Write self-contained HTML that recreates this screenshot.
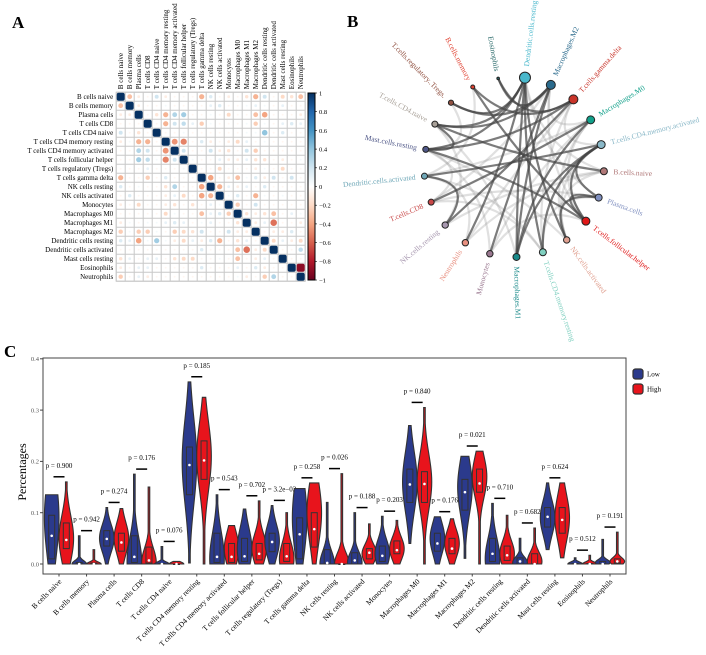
<!DOCTYPE html>
<html><head><meta charset="utf-8"><style>
body{margin:0;background:#fff}
svg{display:block;font-family:"Liberation Serif",serif}
</style></head><body>
<svg id="fig" width="706" height="655" viewBox="0 0 706 655" xmlns="http://www.w3.org/2000/svg">
<text x="12" y="28" font-size="17" font-weight="bold">A</text>
<text x="347" y="27" font-size="17" font-weight="bold">B</text>
<text x="4" y="357" font-size="17" font-weight="bold">C</text>
<g id="pa"></g>
<g id="pb"></g>
<g id="pc"></g>
</svg>
<script>
const NS="http://www.w3.org/2000/svg";
function mk(p,t,a){const e=document.createElementNS(NS,t);for(const k in a)e.setAttribute(k,a[k]);p.appendChild(e);return e;}

// ---------- Panel A data ----------
const cells=["B cells naive","B cells memory","Plasma cells","T cells CD8","T cells CD4 naive","T cells CD4 memory resting","T cells CD4 memory activated","T cells follicular helper","T cells regulatory (Tregs)","T cells gamma delta","NK cells resting","NK cells activated","Monocytes","Macrophages M0","Macrophages M1","Macrophages M2","Dendritic cells resting","Dendritic cells activated","Mast cells resting","Eosinophils","Neutrophils"];
const corr=[
[1,-.3,-.1,-.05,.2,-.1,-.05,-.05,-.05,-.35,.15,-.05,-.1,-.05,-.15,-.35,.2,-.05,-.2,-.15,-.3],
[-.3,1,-.1,-.05,-.05,.05,-.05,-.05,-.05,-.05,.1,.15,-.05,-.05,.05,.1,.05,-.05,.1,-.05,-.05],
[-.1,-.1,1,-.05,-.15,-.35,.3,.35,-.05,-.05,.05,-.05,-.2,-.05,-.05,-.3,-.4,-.05,-.05,-.05,-.1],
[-.05,-.05,-.05,1,-.05,-.35,.2,.25,.1,-.25,.05,-.05,-.05,-.05,.05,-.25,.05,-.05,.1,.15,.1],
[.2,-.05,-.15,-.05,1,-.05,-.05,.05,-.05,-.05,-.05,-.05,-.05,-.05,.05,.05,.4,-.05,.15,-.05,-.05],
[-.1,.05,-.35,-.35,-.05,1,-.45,-.5,-.05,.15,-.1,-.05,-.1,-.2,.1,-.05,.05,-.05,-.05,-.05,-.05],
[-.05,-.05,.3,.2,-.05,-.45,1,.2,-.05,-.05,.2,-.1,-.15,-.05,.2,-.25,-.05,-.05,-.05,-.05,-.05],
[-.05,-.05,.35,.25,.05,-.5,.2,1,.05,-.05,-.05,.1,-.1,-.1,.1,-.15,-.15,-.05,-.1,-.05,.05],
[-.05,-.05,-.05,.1,-.05,-.05,-.05,.05,1,-.05,-.05,-.2,-.05,-.05,-.05,-.1,.05,-.05,-.2,-.05,-.05],
[-.35,-.05,-.05,-.25,-.05,.15,-.05,-.05,-.05,1,-.4,-.05,-.1,-.3,.05,.15,-.1,.2,-.05,.2,-.05],
[.15,-.05,.05,-.05,-.05,-.15,.3,-.05,-.05,-.4,1,-.35,.1,-.1,.1,-.05,.15,-.05,-.05,-.05,-.05],
[-.05,.15,-.05,-.05,-.05,-.1,.1,-.2,-.05,-.4,-.35,1,.05,.15,-.05,-.35,.05,-.05,.05,-.05,-.05],
[-.1,-.05,-.2,-.05,-.05,-.1,-.15,-.05,-.15,-.05,.1,.05,1,-.25,-.05,.2,-.05,-.05,-.05,-.05,-.05],
[-.05,-.05,-.05,-.05,-.05,-.2,.05,-.05,-.05,-.3,.1,.15,-.25,1,-.15,-.1,-.15,-.3,-.05,.1,.05],
[-.1,.05,-.05,.05,.05,.1,.15,.1,-.05,.05,.1,-.05,-.05,-.15,1,-.1,.1,-.55,-.05,-.05,-.1],
[-.25,.05,-.25,-.25,.05,-.05,-.25,-.2,-.15,.2,-.05,-.05,.2,-.1,-.1,1,-.05,-.1,-.1,.15,-.05],
[.15,.1,-.4,.05,.35,.05,-.1,-.2,.1,-.1,.15,-.35,-.05,-.15,.1,-.05,1,-.2,.1,-.1,-.2],
[-.05,-.05,-.05,-.05,-.05,-.05,-.05,-.05,-.05,.15,-.05,-.05,-.05,-.3,-.55,-.1,-.2,1,-.05,-.05,.25],
[-.15,.1,-.05,.1,.1,-.05,-.15,-.2,-.2,-.05,-.05,.05,-.05,-.3,-.05,-.1,.1,-.05,1,-.05,-.05],
[-.1,-.05,.1,.1,-.05,-.05,-.05,-.05,-.05,.15,-.05,-.05,-.05,.1,-.05,.15,-.1,-.05,-.05,1,-.9],
[-.25,-.05,.1,-.1,-.05,-.05,-.05,-.05,-.05,-.05,-.05,-.05,-.05,.05,-.1,-.05,-.25,.3,-.05,-.05,1]];
const cbTicks=[1,0.8,0.6,0.4,0.2,0,-0.2,-0.4,-0.6,-0.8,-1];

const RdBu=["#67001F","#B2182B","#D6604D","#F4A582","#FDDBC7","#FFFFFF","#D1E5F0","#92C5DE","#4393C3","#2166AC","#053061"];
function hex(h){return [1,3,5].map(i=>parseInt(h.substr(i,2),16));}
function col(v){let t=(v+1)/0.2;let i=Math.min(9,Math.max(0,Math.floor(t)));let f=t-i;const a=hex(RdBu[i]),b=hex(RdBu[i+1]);return "rgb("+a.map((x,k)=>Math.round(x+(b[k]-x)*f)).join(",")+")";}

(function(){
const g=document.getElementById('pa');
const cs=9,x0=116.2,y0=92.2,n=cells.length;
mk(g,'rect',{x:x0,y:y0,width:n*cs,height:n*cs,fill:'#fff',stroke:'#c4c4c4','stroke-width':1});
for(let i=0;i<=n;i++){
  mk(g,'line',{x1:x0+i*cs,y1:y0,x2:x0+i*cs,y2:y0+n*cs,stroke:'#c8c8c8','stroke-width':1});
  mk(g,'line',{x1:x0,y1:y0+i*cs,x2:x0+n*cs,y2:y0+i*cs,stroke:'#c8c8c8','stroke-width':1});
}
cells.forEach((c,i)=>{
  const t=mk(g,'text',{x:x0-3,y:y0+i*cs+cs/2+2.4,'font-size':7,'text-anchor':'end'});t.textContent=c;
  
  
  const cx=x0+i*cs+cs/2+2.4,cy=y0-3;
  const u=mk(g,'text',{x:cx,y:cy,'font-size':7,transform:`rotate(-90 ${cx} ${cy})`});u.textContent=c;
  
  
});
corr.forEach((row,i)=>row.forEach((v,j)=>{
  const cx=x0+j*cs+cs/2,cy=y0+i*cs+cs/2;let e;
  if(Math.abs(v)>0.85){e=mk(g,'rect',{x:cx-4,y:cy-4,width:8,height:8,rx:2,fill:col(v)});}
  else e=mk(g,'circle',{cx:cx,cy:cy,r:Math.sqrt(Math.abs(v))*4.4,fill:col(v)});
  
  
}));
// colorbar
const bx=308,by0=93,by1=280;
const defs=mk(g,'defs',{});const lg=mk(defs,'linearGradient',{id:'cbg',x1:0,y1:0,x2:0,y2:1});
RdBu.slice().reverse().forEach((c,k)=>mk(lg,'stop',{offset:k/10,'stop-color':c}));
const cb=mk(g,'rect',{x:bx,y:by0,width:7,height:by1-by0,fill:'url(#cbg)',stroke:'#000','stroke-width':1});


cbTicks.forEach(v=>{const y=by0+(1-v)/2*(by1-by0);
  mk(g,'line',{x1:bx+7,y1:y,x2:bx+9,y2:y,stroke:'#000','stroke-width':0.6});
  const t=mk(g,'text',{x:bx+11,y:y+2.4,'font-size':6.5});t.textContent=(v<0?"\u2212":"")+Math.abs(v);
  
  });
})();

// ---------- Panel B data ----------
const nodes=["Dendritic.cells.resting","Macrophages.M2","T.cells.gamma.delta","Macrophages.M0","T.cells.CD4.memory.activated","B.cells.naive","Plasma.cells","T.cells.follicular.helper","NK.cells.activated","T.cells.CD4.memory.resting","Macrophages.M1","Monocytes","Neutrophils","NK.cells.resting","T.cells.CD8","Dendritic.cells.activated","Mast.cells.resting","T.cells.CD4.naive","T.cells.regulatory..Tregs.","B.cells.memory","Eosinophils"];
const nodeColors=["#4ab8cc","#2a6a8c","#c8342a","#12a08a","#8ab8c8","#b07878","#8090c0","#e01818","#e0a090","#80d0c0","#1a8a8a","#9a7890","#e89080","#a898b0","#c84848","#70a8b8","#505888","#a8a098","#905040","#e04030","#2a6a6a"];
const nodeSizes=[5.5,4.5,4.5,4,4,3.5,3.5,4,3.2,3.5,3.5,3.2,3.2,3.2,3,3,3,3,2.6,2,1.3];
const darkEdges=[[0,16],[0,17],[0,10],[0,12],[0,9],[0,18],[1,17],[1,11],[1,10],[2,13],[2,19],[2,16],[3,14],[4,15],[4,7],[4,6],[4,9],[4,10],[5,17],[6,7],[6,8],[7,19],[7,16],[20,2],[20,1],[16,17],[15,13],[8,0],[3,10],[1,18]];
const lightEdges=[[0,5],[0,6],[1,7],[1,14],[2,12],[3,15],[3,11],[5,13],[5,12],[6,14],[7,11],[8,16],[9,15],[9,14],[10,17],[11,16],[12,15],[13,17],[14,16],[2,9],[3,7],[4,8],[5,8],[6,9],[18,16],[19,15],[3,8],[1,3],[2,4]];

(function(){
const g=document.getElementById('pb');
const CX=514,CY=167,R=90,n=nodes.length;
const ang=i=>(-83+i*360/n)*Math.PI/180;
const P=i=>[CX+R*Math.cos(ang(i)),CY+R*Math.sin(ang(i))];
function edge(e,stroke,w,op,name){
  const a=P(e[0]),b=P(e[1]);const mx=(a[0]+b[0])/2,my=(a[1]+b[1])/2;
  const k=0.55;const qx=mx+(CX-mx)*k,qy=my+(CY-my)*k;
  const p=mk(g,'path',{d:`M${a[0]},${a[1]} Q${qx},${qy} ${b[0]},${b[1]}`,fill:'none',stroke:stroke,'stroke-width':w,'stroke-opacity':op});
  
  
}
lightEdges.forEach(e=>edge(e,'#999',2.2,0.3,'weak-edge'));
darkEdges.forEach(e=>edge(e,'#444',2.2,0.7,'strong-edge'));
nodes.forEach((nm,i)=>{
  const [x,y]=P(i);
  const c=mk(g,'circle',{cx:x,cy:y,r:nodeSizes[i],fill:nodeColors[i],stroke:'#222','stroke-width':1});
  
  
  const a=ang(i);const lr=R+nodeSizes[i]+6;const lx=CX+lr*Math.cos(a),ly=CY+lr*Math.sin(a);
  let deg=a*180/Math.PI,anchor='start';
  if(Math.cos(a)<-0.001){deg+=180;anchor='end';}
  const t=mk(g,'text',{x:lx,y:ly+2.5,'font-size':7.5,fill:nodeColors[i],'text-anchor':anchor,transform:`rotate(${deg} ${lx} ${ly})`});
  t.textContent=nm;
  
  
});
})();

// ---------- Panel C data ----------
const cats=["B cells naive","B cells memory","Plasma cells","T cells CD8","T cells CD4 naive","T cells CD4 memory resting","T cells CD4 memory activated","T cells follicular helper","T cells regulatory (Tregs)","T cells gamma delta","NK cells resting","NK cells activated","Monocytes","Macrophages M0","Macrophages M1","Macrophages M2","Dendritic cells resting","Dendritic cells activated","Mast cells resting","Eosinophils","Neutrophils"];
// [min,q1,median,q3,max,mode]
const lowStats=[[0,.01,.055,.095,.135,.09],[0,0,0,.003,.055,0],[0,.035,.049,.065,.11,.05],[0,.003,.014,.055,.175,.005],[0,0,0,.001,.034,0],[.002,.135,.193,.228,.355,.2],[0,.003,.014,.06,.135,.01],[0,.005,.015,.05,.107,.03],[0,.024,.043,.06,.114,.045],[0,.01,.058,.09,.147,.09],[0,0,.002,.028,.12,0],[0,0,.007,.022,.1,.003],[0,.005,.016,.035,.093,.02],[.04,.12,.155,.185,.27,.16],[0,.025,.04,.06,.092,.05],[.011,.105,.14,.165,.21,.15],[0,.005,.02,.05,.118,.01],[0,0,.005,.012,.05,.003],[.028,.072,.092,.11,.158,.09],[0,0,0,.001,.012,0],[0,0,0,.005,.048,.003]];
const highStats=[[0,.03,.047,.08,.16,.05],[0,0,0,.002,.028,0],[0,.025,.042,.06,.108,.05],[0,.002,.007,.033,.15,.003],[0,0,0,0,.005,0],[0,.165,.202,.24,.325,.21],[0,.003,.014,.04,.075,.03],[0,.008,.02,.04,.123,.03],[0,.005,.015,.04,.1,.01],[0,.033,.068,.1,.158,.1],[0,0,0,0,.176,0],[0,.01,.022,.03,.078,.02],[0,.02,.027,.045,.085,.03],[0,.12,.156,.18,.305,.16],[0,.02,.03,.05,.088,.04],[0,.14,.157,.185,.22,.17],[0,.007,.017,.035,.095,.02],[0,0,0,.02,.07,.005],[.012,.06,.086,.11,.158,.09],[0,0,0,.001,.017,0],[0,.002,.005,.01,.062,.005]];
const pvals=["0.900","0.942","0.274","0.176","0.076","0.185","0.543","0.702","3.2e\u221203","0.258","0.026","0.188","0.203","0.840","0.176","0.021","0.710","0.682","0.624","0.512","0.191"];
const yTicks=[0,0.1,0.2,0.3,0.4];

(function(){
const g=document.getElementById('pc');
const L=43,Rr=626,T=358,B=574;
const y=v=>564-v*513;
const x=i=>59+i*27.55;
mk(g,'rect',{x:L,y:T,width:Rr-L,height:B-T,fill:'#fff',stroke:'#444','stroke-width':1});
yTicks.forEach(v=>{mk(g,'line',{x1:L-3,y1:y(v),x2:L,y2:y(v),stroke:'#444'});
  const t=mk(g,'text',{x:L-4,y:y(v)+2.3,'font-size':6.5,fill:'#555','text-anchor':'end'});t.textContent=v.toFixed(1);
  
  });
const yt=mk(g,'text',{x:26,y:472,'font-size':12,'text-anchor':'middle',transform:'rotate(-90 26 472)'});yt.textContent="Percentages";


function violin(cx,s,fill,name){
  const [mn,q1,md,q3,mx,mode]=s;const W=7.3;
  const sig=Math.max((q3-q1)*0.9,(mx-mn)*0.12,0.004);
  const N=40;let right=[],left=[];
  for(let k=0;k<=N;k++){const v=mn+(mx-mn)*k/N;let w=W*Math.exp(-0.5*Math.pow((v-mode)/sig,2));w=Math.max(w,0.8);
    right.push([cx+w,y(v)]);left.push([cx-w,y(v)]);}
  const pts=right.concat(left.reverse());
  const p=mk(g,'path',{d:'M'+pts.map(p=>p.join(',')).join(' L')+'Z',fill:fill,stroke:'#333','stroke-width':1.1});
  
  
  const b=mk(g,'rect',{x:cx-3,y:y(q3),width:6,height:Math.max(0.5,y(q1)-y(q3)),fill:'none',stroke:'#333','stroke-width':1});
  
  
  mk(g,'circle',{cx:cx,cy:y(md),r:1.3,fill:'#fff'});
}
cats.forEach((c,i)=>{
  const cx=x(i);
  violin(cx-7.3,lowStats[i],'#2b3a8c','violin-low');
  violin(cx+7.3,highStats[i],'#e8141c','violin-high');
  const top=Math.max(lowStats[i][4],highStats[i][4])+0.01;
  const bar=mk(g,'line',{x1:cx-5.5,y1:y(top),x2:cx+5.5,y2:y(top),stroke:'#000','stroke-width':1.5});
  
  
  const pt=mk(g,'text',{x:cx,y:y(top)-9,'font-size':7,'text-anchor':'middle'});pt.textContent="p = "+pvals[i];
  
  
  mk(g,'line',{x1:cx,y1:B,x2:cx,y2:B+2.5,stroke:'#444'});
  const lx=cx+3,ly=B+8;
  const t=mk(g,'text',{x:lx,y:ly,'font-size':7.5,'text-anchor':'end',transform:`rotate(-45 ${lx} ${ly})`});t.textContent=c;
  
  
});
// legend
[["Low","#2b3a8c"],["High","#e8141c"]].forEach((d,k)=>{
  const ly=369+k*15;
  const r=mk(g,'rect',{x:633,y:ly,width:10,height:10,rx:2.5,fill:d[1],stroke:'#333','stroke-width':1.2});
  
  
  const t=mk(g,'text',{x:647,y:ly+7.5,'font-size':7});t.textContent=d[0];
  
  
});
})();
</script>
</body></html>
